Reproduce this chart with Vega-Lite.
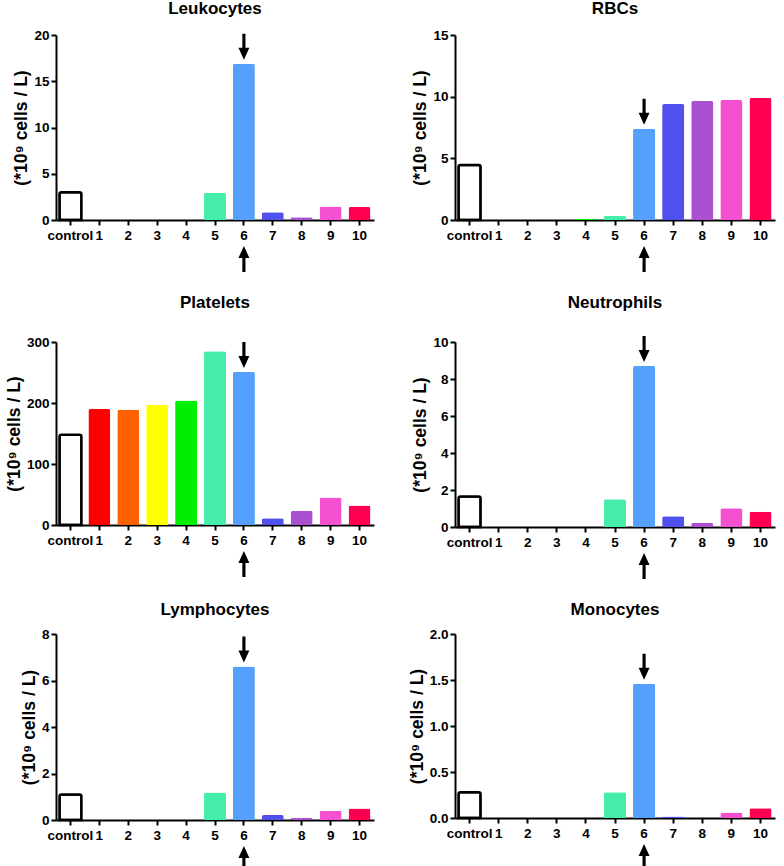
{
  "$schema": "https://vega.github.io/schema/vega-lite/v6.json",
  "padding": {"left": 5, "top": 0, "right": 5, "bottom": 0},
  "data": {
    "values": [
      {"cell": "Leukocytes", "group": "control", "value": 3.0},
      {"cell": "Leukocytes", "group": "1", "value": 0},
      {"cell": "Leukocytes", "group": "2", "value": 0},
      {"cell": "Leukocytes", "group": "3", "value": 0},
      {"cell": "Leukocytes", "group": "4", "value": 0},
      {"cell": "Leukocytes", "group": "5", "value": 2.95},
      {"cell": "Leukocytes", "group": "6", "value": 16.9},
      {"cell": "Leukocytes", "group": "7", "value": 0.85},
      {"cell": "Leukocytes", "group": "8", "value": 0.3},
      {"cell": "Leukocytes", "group": "9", "value": 1.45},
      {"cell": "Leukocytes", "group": "10", "value": 1.4},
      {"cell": "RBCs", "group": "control", "value": 4.45},
      {"cell": "RBCs", "group": "1", "value": 0},
      {"cell": "RBCs", "group": "2", "value": 0},
      {"cell": "RBCs", "group": "3", "value": 0.02},
      {"cell": "RBCs", "group": "4", "value": 0.1},
      {"cell": "RBCs", "group": "5", "value": 0.35},
      {"cell": "RBCs", "group": "6", "value": 7.4},
      {"cell": "RBCs", "group": "7", "value": 9.4},
      {"cell": "RBCs", "group": "8", "value": 9.65},
      {"cell": "RBCs", "group": "9", "value": 9.72},
      {"cell": "RBCs", "group": "10", "value": 9.9},
      {"cell": "Platelets", "group": "control", "value": 148},
      {"cell": "Platelets", "group": "1", "value": 190},
      {"cell": "Platelets", "group": "2", "value": 189},
      {"cell": "Platelets", "group": "3", "value": 197},
      {"cell": "Platelets", "group": "4", "value": 204},
      {"cell": "Platelets", "group": "5", "value": 285},
      {"cell": "Platelets", "group": "6", "value": 251},
      {"cell": "Platelets", "group": "7", "value": 11},
      {"cell": "Platelets", "group": "8", "value": 23},
      {"cell": "Platelets", "group": "9", "value": 45},
      {"cell": "Platelets", "group": "10", "value": 32},
      {"cell": "Neutrophils", "group": "control", "value": 1.65},
      {"cell": "Neutrophils", "group": "1", "value": 0},
      {"cell": "Neutrophils", "group": "2", "value": 0},
      {"cell": "Neutrophils", "group": "3", "value": 0},
      {"cell": "Neutrophils", "group": "4", "value": 0},
      {"cell": "Neutrophils", "group": "5", "value": 1.5},
      {"cell": "Neutrophils", "group": "6", "value": 8.7},
      {"cell": "Neutrophils", "group": "7", "value": 0.58},
      {"cell": "Neutrophils", "group": "8", "value": 0.22},
      {"cell": "Neutrophils", "group": "9", "value": 1.02},
      {"cell": "Neutrophils", "group": "10", "value": 0.82},
      {"cell": "Lymphocytes", "group": "control", "value": 1.1},
      {"cell": "Lymphocytes", "group": "1", "value": 0},
      {"cell": "Lymphocytes", "group": "2", "value": 0},
      {"cell": "Lymphocytes", "group": "3", "value": 0},
      {"cell": "Lymphocytes", "group": "4", "value": 0},
      {"cell": "Lymphocytes", "group": "5", "value": 1.18},
      {"cell": "Lymphocytes", "group": "6", "value": 6.6},
      {"cell": "Lymphocytes", "group": "7", "value": 0.21},
      {"cell": "Lymphocytes", "group": "8", "value": 0.09},
      {"cell": "Lymphocytes", "group": "9", "value": 0.4},
      {"cell": "Lymphocytes", "group": "10", "value": 0.5},
      {"cell": "Monocytes", "group": "control", "value": 0.28},
      {"cell": "Monocytes", "group": "1", "value": 0},
      {"cell": "Monocytes", "group": "2", "value": 0},
      {"cell": "Monocytes", "group": "3", "value": 0},
      {"cell": "Monocytes", "group": "4", "value": 0},
      {"cell": "Monocytes", "group": "5", "value": 0.28},
      {"cell": "Monocytes", "group": "6", "value": 1.46},
      {"cell": "Monocytes", "group": "7", "value": 0.015},
      {"cell": "Monocytes", "group": "8", "value": 0.003},
      {"cell": "Monocytes", "group": "9", "value": 0.06},
      {"cell": "Monocytes", "group": "10", "value": 0.105}
    ]
  },
  "columns": 2,
  "spacing": {"row": 22, "column": 34},
  "concat": [
    {
      "title": {"text": "Leukocytes", "offset": 10},
      "width": 318, "height": 185,
      "transform": [{"filter": "datum.cell == 'Leukocytes'"}],
      "encoding": {
        "x": {"field": "group", "type": "nominal", "scale": {"domain": ["control", "1", "2", "3", "4", "5", "6", "7", "8", "9", "10"], "paddingInner": 0.24, "paddingOuter": 0.12}, "axis": {"title": null, "labelAngle": 0}},
        "y": {"field": "value", "type": "quantitative", "scale": {"domain": [0, 20], "nice": false}, "axis": {"values": [0, 5, 10, 15, 20], "title": "(*10⁹ cells / L)"}}
      },
      "layer": [
        {
          "mark": {"type": "bar", "strokeWidth": 2.5, "cornerRadiusTopLeft": 2, "cornerRadiusTopRight": 2, "opacity": 1},
          "encoding": {
            "fill": {"field": "group", "type": "nominal", "scale": {"domain": ["control", "1", "2", "3", "4", "5", "6", "7", "8", "9", "10"], "range": ["#ffffff", "#ff0000", "#ff6000", "#ffff00", "#00ee00", "#44eeaa", "#55a0ff", "#5050ee", "#aa50d0", "#f550d0", "#ff0050"]}, "legend": null},
            "stroke": {"condition": {"test": "datum.group == 'control'", "value": "black"}, "value": "transparent"}
          }
        },
        {
          "transform": [{"filter": "datum.group == '6'"}],
          "mark": {"type": "point", "shape": "M-0.12,-1L0.12,-1L0.12,0.08L0.42,0.08L0,1L-0.42,0.08L-0.12,0.08Z", "size": 676, "filled": true, "color": "black", "opacity": 1, "yOffset": -17}
        },
        {
          "transform": [{"filter": "datum.group == '6'"}],
          "mark": {"type": "point", "shape": "M-0.12,1L0.12,1L0.12,-0.08L0.42,-0.08L0,-1L-0.42,-0.08L-0.12,-0.08Z", "size": 676, "filled": true, "color": "black", "opacity": 1, "yOffset": 39},
          "encoding": {"y": {"datum": 0, "type": "quantitative"}}
        }
      ]
    },
    {
      "title": {"text": "RBCs", "offset": 10},
      "width": 320, "height": 185,
      "transform": [{"filter": "datum.cell == 'RBCs'"}],
      "encoding": {
        "x": {"field": "group", "type": "nominal", "scale": {"domain": ["control", "1", "2", "3", "4", "5", "6", "7", "8", "9", "10"], "paddingInner": 0.24, "paddingOuter": 0.12}, "axis": {"title": null, "labelAngle": 0}},
        "y": {"field": "value", "type": "quantitative", "scale": {"domain": [0, 15], "nice": false}, "axis": {"values": [0, 5, 10, 15], "title": "(*10⁹ cells / L)"}}
      },
      "layer": [
        {
          "mark": {"type": "bar", "strokeWidth": 2.5, "cornerRadiusTopLeft": 2, "cornerRadiusTopRight": 2, "opacity": 1},
          "encoding": {
            "fill": {"field": "group", "type": "nominal", "scale": {"domain": ["control", "1", "2", "3", "4", "5", "6", "7", "8", "9", "10"], "range": ["#ffffff", "#ff0000", "#ff6000", "#ffff00", "#00ee00", "#44eeaa", "#55a0ff", "#5050ee", "#aa50d0", "#f550d0", "#ff0050"]}, "legend": null},
            "stroke": {"condition": {"test": "datum.group == 'control'", "value": "black"}, "value": "transparent"}
          }
        },
        {
          "transform": [{"filter": "datum.group == '6'"}],
          "mark": {"type": "point", "shape": "M-0.12,-1L0.12,-1L0.12,0.08L0.42,0.08L0,1L-0.42,0.08L-0.12,0.08Z", "size": 676, "filled": true, "color": "black", "opacity": 1, "yOffset": -17}
        },
        {
          "transform": [{"filter": "datum.group == '6'"}],
          "mark": {"type": "point", "shape": "M-0.12,1L0.12,1L0.12,-0.08L0.42,-0.08L0,-1L-0.42,-0.08L-0.12,-0.08Z", "size": 676, "filled": true, "color": "black", "opacity": 1, "yOffset": 39},
          "encoding": {"y": {"datum": 0, "type": "quantitative"}}
        }
      ]
    },
    {
      "title": {"text": "Platelets", "offset": 23},
      "width": 318, "height": 183,
      "transform": [{"filter": "datum.cell == 'Platelets'"}],
      "encoding": {
        "x": {"field": "group", "type": "nominal", "scale": {"domain": ["control", "1", "2", "3", "4", "5", "6", "7", "8", "9", "10"], "paddingInner": 0.24, "paddingOuter": 0.12}, "axis": {"title": null, "labelAngle": 0}},
        "y": {"field": "value", "type": "quantitative", "scale": {"domain": [0, 300], "nice": false}, "axis": {"values": [0, 100, 200, 300], "title": "(*10⁹ cells / L)"}}
      },
      "layer": [
        {
          "mark": {"type": "bar", "strokeWidth": 2.5, "cornerRadiusTopLeft": 2, "cornerRadiusTopRight": 2, "opacity": 1},
          "encoding": {
            "fill": {"field": "group", "type": "nominal", "scale": {"domain": ["control", "1", "2", "3", "4", "5", "6", "7", "8", "9", "10"], "range": ["#ffffff", "#ff0000", "#ff6000", "#ffff00", "#00ee00", "#44eeaa", "#55a0ff", "#5050ee", "#aa50d0", "#f550d0", "#ff0050"]}, "legend": null},
            "stroke": {"condition": {"test": "datum.group == 'control'", "value": "black"}, "value": "transparent"}
          }
        },
        {
          "transform": [{"filter": "datum.group == '6'"}],
          "mark": {"type": "point", "shape": "M-0.12,-1L0.12,-1L0.12,0.08L0.42,0.08L0,1L-0.42,0.08L-0.12,0.08Z", "size": 676, "filled": true, "color": "black", "opacity": 1, "yOffset": -17}
        },
        {
          "transform": [{"filter": "datum.group == '6'"}],
          "mark": {"type": "point", "shape": "M-0.12,1L0.12,1L0.12,-0.08L0.42,-0.08L0,-1L-0.42,-0.08L-0.12,-0.08Z", "size": 676, "filled": true, "color": "black", "opacity": 1, "yOffset": 39},
          "encoding": {"y": {"datum": 0, "type": "quantitative"}}
        }
      ]
    },
    {
      "title": {"text": "Neutrophils", "offset": 23},
      "width": 320, "height": 185,
      "transform": [{"filter": "datum.cell == 'Neutrophils'"}],
      "encoding": {
        "x": {"field": "group", "type": "nominal", "scale": {"domain": ["control", "1", "2", "3", "4", "5", "6", "7", "8", "9", "10"], "paddingInner": 0.24, "paddingOuter": 0.12}, "axis": {"title": null, "labelAngle": 0}},
        "y": {"field": "value", "type": "quantitative", "scale": {"domain": [0, 10], "nice": false}, "axis": {"values": [0, 2, 4, 6, 8, 10], "title": "(*10⁹ cells / L)"}}
      },
      "layer": [
        {
          "mark": {"type": "bar", "strokeWidth": 2.5, "cornerRadiusTopLeft": 2, "cornerRadiusTopRight": 2, "opacity": 1},
          "encoding": {
            "fill": {"field": "group", "type": "nominal", "scale": {"domain": ["control", "1", "2", "3", "4", "5", "6", "7", "8", "9", "10"], "range": ["#ffffff", "#ff0000", "#ff6000", "#ffff00", "#00ee00", "#44eeaa", "#55a0ff", "#5050ee", "#aa50d0", "#f550d0", "#ff0050"]}, "legend": null},
            "stroke": {"condition": {"test": "datum.group == 'control'", "value": "black"}, "value": "transparent"}
          }
        },
        {
          "transform": [{"filter": "datum.group == '6'"}],
          "mark": {"type": "point", "shape": "M-0.12,-1L0.12,-1L0.12,0.08L0.42,0.08L0,1L-0.42,0.08L-0.12,0.08Z", "size": 676, "filled": true, "color": "black", "opacity": 1, "yOffset": -17}
        },
        {
          "transform": [{"filter": "datum.group == '6'"}],
          "mark": {"type": "point", "shape": "M-0.12,1L0.12,1L0.12,-0.08L0.42,-0.08L0,-1L-0.42,-0.08L-0.12,-0.08Z", "size": 676, "filled": true, "color": "black", "opacity": 1, "yOffset": 39},
          "encoding": {"y": {"datum": 0, "type": "quantitative"}}
        }
      ]
    },
    {
      "title": {"text": "Lymphocytes", "offset": 8},
      "width": 318, "height": 186,
      "transform": [{"filter": "datum.cell == 'Lymphocytes'"}],
      "encoding": {
        "x": {"field": "group", "type": "nominal", "scale": {"domain": ["control", "1", "2", "3", "4", "5", "6", "7", "8", "9", "10"], "paddingInner": 0.24, "paddingOuter": 0.12}, "axis": {"title": null, "labelAngle": 0}},
        "y": {"field": "value", "type": "quantitative", "scale": {"domain": [0, 8], "nice": false}, "axis": {"values": [0, 2, 4, 6, 8], "title": "(*10⁹ cells / L)"}}
      },
      "layer": [
        {
          "mark": {"type": "bar", "strokeWidth": 2.5, "cornerRadiusTopLeft": 2, "cornerRadiusTopRight": 2, "opacity": 1},
          "encoding": {
            "fill": {"field": "group", "type": "nominal", "scale": {"domain": ["control", "1", "2", "3", "4", "5", "6", "7", "8", "9", "10"], "range": ["#ffffff", "#ff0000", "#ff6000", "#ffff00", "#00ee00", "#44eeaa", "#55a0ff", "#5050ee", "#aa50d0", "#f550d0", "#ff0050"]}, "legend": null},
            "stroke": {"condition": {"test": "datum.group == 'control'", "value": "black"}, "value": "transparent"}
          }
        },
        {
          "transform": [{"filter": "datum.group == '6'"}],
          "mark": {"type": "point", "shape": "M-0.12,-1L0.12,-1L0.12,0.08L0.42,0.08L0,1L-0.42,0.08L-0.12,0.08Z", "size": 676, "filled": true, "color": "black", "opacity": 1, "yOffset": -17}
        },
        {
          "transform": [{"filter": "datum.group == '6'"}],
          "mark": {"type": "point", "shape": "M-0.12,1L0.12,1L0.12,-0.08L0.42,-0.08L0,-1L-0.42,-0.08L-0.12,-0.08Z", "size": 676, "filled": true, "color": "black", "opacity": 1, "yOffset": 39},
          "encoding": {"y": {"datum": 0, "type": "quantitative"}}
        }
      ]
    },
    {
      "title": {"text": "Monocytes", "offset": 8},
      "width": 320, "height": 184,
      "transform": [{"filter": "datum.cell == 'Monocytes'"}],
      "encoding": {
        "x": {"field": "group", "type": "nominal", "scale": {"domain": ["control", "1", "2", "3", "4", "5", "6", "7", "8", "9", "10"], "paddingInner": 0.24, "paddingOuter": 0.12}, "axis": {"title": null, "labelAngle": 0}},
        "y": {"field": "value", "type": "quantitative", "scale": {"domain": [0, 2], "nice": false}, "axis": {"values": [0, 0.5, 1, 1.5, 2], "format": ".1f", "title": "(*10⁹ cells / L)"}}
      },
      "layer": [
        {
          "mark": {"type": "bar", "strokeWidth": 2.5, "cornerRadiusTopLeft": 2, "cornerRadiusTopRight": 2, "opacity": 1},
          "encoding": {
            "fill": {"field": "group", "type": "nominal", "scale": {"domain": ["control", "1", "2", "3", "4", "5", "6", "7", "8", "9", "10"], "range": ["#ffffff", "#ff0000", "#ff6000", "#ffff00", "#00ee00", "#44eeaa", "#55a0ff", "#5050ee", "#aa50d0", "#f550d0", "#ff0050"]}, "legend": null},
            "stroke": {"condition": {"test": "datum.group == 'control'", "value": "black"}, "value": "transparent"}
          }
        },
        {
          "transform": [{"filter": "datum.group == '6'"}],
          "mark": {"type": "point", "shape": "M-0.12,-1L0.12,-1L0.12,0.08L0.42,0.08L0,1L-0.42,0.08L-0.12,0.08Z", "size": 676, "filled": true, "color": "black", "opacity": 1, "yOffset": -17}
        },
        {
          "transform": [{"filter": "datum.group == '6'"}],
          "mark": {"type": "point", "shape": "M-0.12,1L0.12,1L0.12,-0.08L0.42,-0.08L0,-1L-0.42,-0.08L-0.12,-0.08Z", "size": 676, "filled": true, "color": "black", "opacity": 1, "yOffset": 39},
          "encoding": {"y": {"datum": 0, "type": "quantitative"}}
        }
      ]
    }
  ],
  "config": {
    "background": "white",
    "font": "Liberation Sans",
    "view": {"stroke": null},
    "title": {"font": "Liberation Sans", "fontSize": 17, "fontWeight": "bold", "color": "black"},
    "axis": {
      "grid": false,
      "domainColor": "black", "domainWidth": 2,
      "tickColor": "black", "tickWidth": 2, "tickSize": 5,
      "labelFont": "Liberation Sans", "labelFontSize": 13.5, "labelFontWeight": "bold", "labelColor": "black", "labelPadding": 2,
      "titleFont": "Liberation Sans", "titleFontSize": 17.5, "titleFontWeight": "bold", "titleColor": "black"
    },
    "axisY": {"titlePadding": 3},
    "axisX": {"labelPadding": 3}
  }
}
